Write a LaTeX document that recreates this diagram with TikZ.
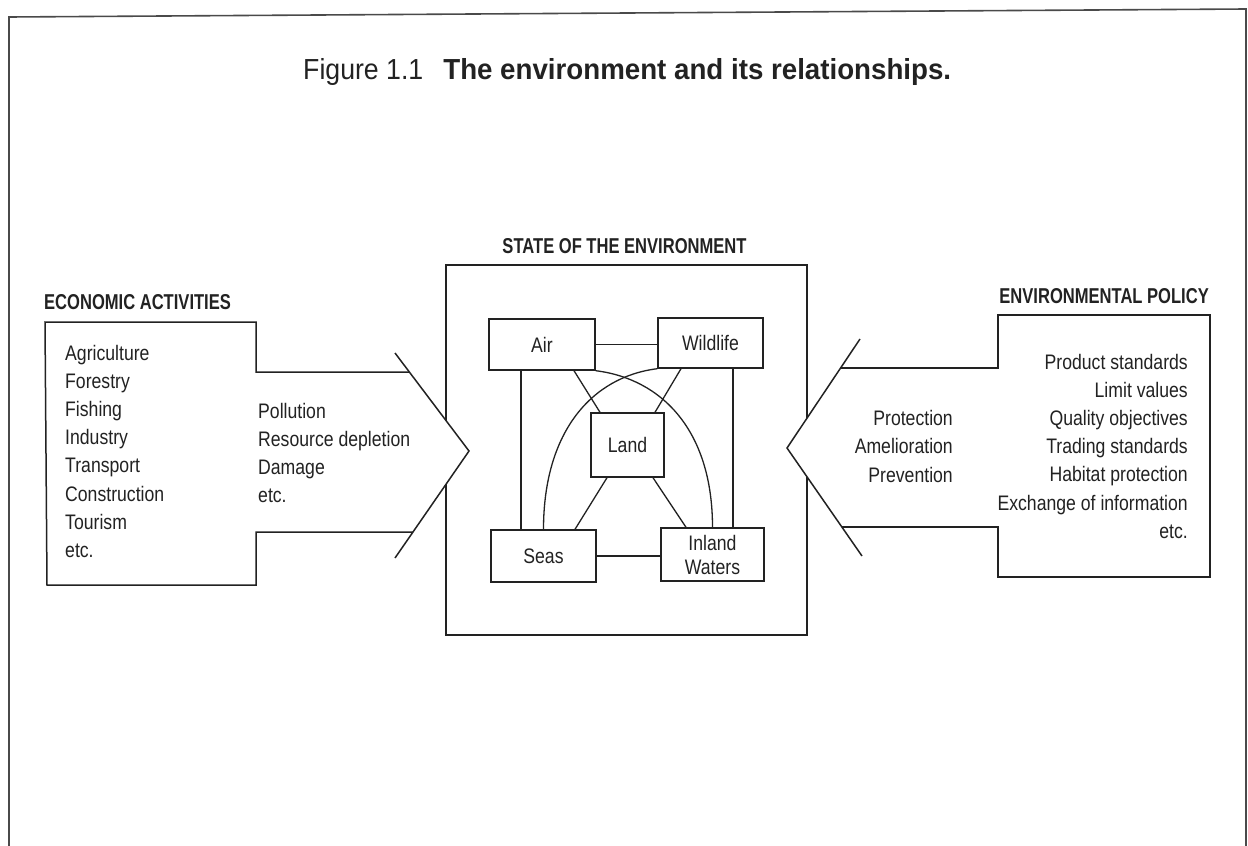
\documentclass[tikz,border=0pt]{standalone}
\usepackage{fontspec}
\setmainfont{Liberation Sans}
\newfontfamily\condfont{Liberation Sans}[FakeStretch=0.84]
\newfontfamily\headfont{Liberation Sans}[FakeStretch=0.77]
\newfontfamily\titlefont{Liberation Sans}[FakeStretch=0.92]
\newfontfamily\titleboldfont{Liberation Sans}[FakeStretch=0.955]
\definecolor{ink}{HTML}{222222}
\definecolor{framec}{HTML}{4A4A4A}
\begin{document}
\begin{tikzpicture}[x=1pt,y=-1pt,
  ln/.style={line width=1.5pt, draw=ink, line join=miter},
  conn/.style={line width=1.3pt, draw=ink},
  txt/.style={font=\condfont\fontsize{21}{24}\selectfont, text=ink, inner sep=0pt},
  head/.style={font=\headfont\bfseries\fontsize{21.5}{25}\selectfont, text=ink, inner sep=0pt},
  cell/.style={txt, draw=ink, line width=1.4pt, align=center},
  one/.style={text height=15pt, text depth=0pt}
]
\useasboundingbox (0,0) rectangle (1248,846);
% outer frame
\draw[line width=1.6pt, draw=framec] (9,846) -- (9,17) -- (1246,9) -- (1246,846);
% title
\node[anchor=base west, inner sep=0pt, text=ink] (title) at (303,79)
  {\titlefont\fontsize{29}{34}\selectfont Figure 1.1\hspace*{20pt}\titleboldfont\bfseries The environment and its relationships.};
% headings
\node[head, anchor=base west] (hEco) at (44,309) {ECONOMIC ACTIVITIES};
\node[head, anchor=base] (hState) at (624.5,253) {STATE OF THE ENVIRONMENT};
\node[head, anchor=base east] (hPol) at (1209,303) {ENVIRONMENTAL POLICY};
% state of the environment box
\node[draw=ink, line width=1.5pt, minimum width=361pt, minimum height=370pt, inner sep=0pt] (env) at (626.5,450) {};
% left arrow shape
\fill[white] (45,322) -- (256,322) -- (256,372) -- (409,372) -- (469,451) -- (413,532) -- (256,532) -- (256,585) -- (47,585) -- cycle;
\draw[ln] (409,372) -- (256,372) -- (256,322) -- (45,322) -- (47,585) -- (256,585) -- (256,532) -- (413,532);
\draw[ln] (395,353) -- (469,451) -- (395,558);
% right arrow shape
\fill[white] (1210,315) -- (998,315) -- (998,368) -- (841,368) -- (787,448) -- (842,527) -- (998,527) -- (998,577) -- (1210,577) -- cycle;
\draw[ln] (841,368) -- (998,368) -- (998,315) -- (1210,315) -- (1210,577) -- (998,577) -- (998,527) -- (842,527);
\draw[ln] (860,339) -- (787,448) -- (862,556);
% left lists
\foreach \t [count=\i] in {Agriculture,Forestry,Fishing,Industry,Transport,Construction,Tourism,etc.}
  \node[txt, anchor=base west] (A\i) at (65,{360+28.2*(\i-1)}) {\t};
\foreach \t [count=\i] in {Pollution,Resource depletion,Damage,etc.}
  \node[txt, anchor=base west] (P\i) at (258,{418+28.2*(\i-1)}) {\t};
% right lists
\foreach \t [count=\i] in {Product standards,Limit values,Quality objectives,Trading standards,Habitat protection,Exchange of information,etc.}
  \node[txt, anchor=base east] (R\i) at (1188,{369+28.2*(\i-1)}) {\t};
\foreach \t [count=\i] in {Protection,Amelioration,Prevention}
  \node[txt, anchor=base east] (Q\i) at (953,{425.7+28.2*(\i-1)}) {\t};
% inner cells
\node[cell, one, minimum width=106pt, minimum height=51pt] (air) at (542,344.5) {Air};
\node[cell, one, minimum width=105pt, minimum height=50pt] (wild) at (710.5,343) {Wildlife};
\node[cell, one, minimum width=73pt, minimum height=64pt] (land) at (627.5,445) {Land};
\node[cell, one, minimum width=105pt, minimum height=52pt] (seas) at (543.5,556) {Seas};
\node[cell, minimum width=103pt, minimum height=53pt] (inland) at (712.5,554.5) {Inland\\Waters};
% connectors
\draw[conn] (air.east) -- (air.east -| wild.west);
\draw[conn] (seas.east) -- (seas.east -| inland.west);
\draw[conn] ([xshift=-21pt]air.south) -- ([xshift=-21pt]air.south |- seas.north);
\draw[conn] ([xshift=22.5pt]wild.south) -- ([xshift=22.5pt]wild.south |- inland.north);
\draw[conn] ([xshift=32pt]air.south) -- ([xshift=-27.5pt]land.north);
\draw[conn] ([xshift=-29.5pt]wild.south) -- ([xshift=27.5pt]land.north);
\draw[conn] ([xshift=-20.5pt]land.south) -- ([xshift=31.5pt]seas.north);
\draw[conn] ([xshift=25.5pt]land.south) -- ([xshift=-26.5pt]inland.north);
\draw[conn] (air.south east) .. controls +(65,8) and +(0,-98) .. (inland.north);
\draw[conn] (wild.south west) .. controls +(-65,8) and +(0,-98) .. (seas.north);
\end{tikzpicture}
\end{document}
